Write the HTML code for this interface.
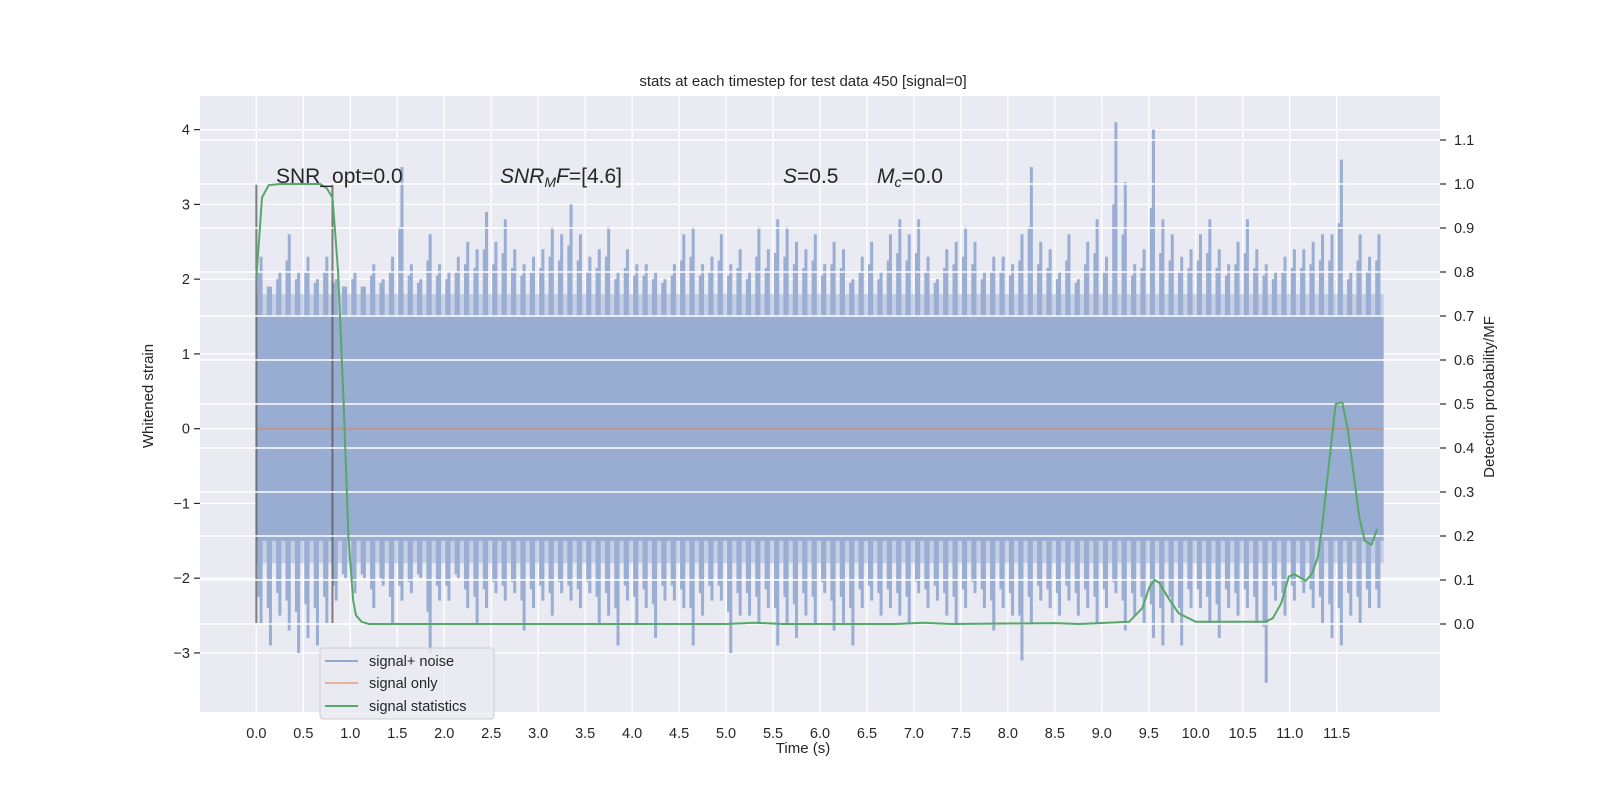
<!DOCTYPE html>
<html><head><meta charset="utf-8"><style>
html,body{margin:0;padding:0;background:#fff;}
svg{display:block;font-family:"Liberation Sans","DejaVu Sans",sans-serif;}
</style></head><body>
<svg id="chart" width="1600" height="800" viewBox="0 0 1600 800" xmlns="http://www.w3.org/2000/svg">
<rect x="0" y="0" width="1600" height="800" fill="#fff"/>
<rect x="200" y="96" width="1240" height="616" fill="#eaeaf2"/>
<g id="leftgrid"></g>
<g id="noise"></g>
<g id="ax1marks"></g>
<g id="rightgrid"></g>
<g id="ax2marks"></g>
<g id="ticks"></g>
<text x="803" y="86" font-size="15" fill="#262626" text-anchor="middle">stats at each timestep for test data 450 [signal=0]</text>
<text x="803" y="753" font-size="15" fill="#262626" text-anchor="middle">Time (s)</text>
<text transform="translate(153,396) rotate(-90)" font-size="15" fill="#262626" text-anchor="middle">Whitened strain</text>
<text transform="translate(1494,397) rotate(-90)" font-size="15" fill="#262626" text-anchor="middle">Detection probability/MF</text>
<g font-size="21" fill="#262626">
<text x="276" y="183">SNR_opt=0.0</text>
<text x="500" y="183"><tspan font-style="italic">SNR</tspan><tspan font-style="italic" font-size="14" dy="4">M</tspan><tspan font-style="italic" dy="-4">F</tspan>=[4.6]</text>
<text x="783" y="183"><tspan font-style="italic">S</tspan>=0.5</text>
<text x="877" y="183"><tspan font-style="italic">M</tspan><tspan font-style="italic" font-size="14" dy="4">c</tspan><tspan dy="-4">=0.0</tspan></text>
</g>
<g>
<rect x="320" y="648" width="174" height="71" rx="3" fill="#eaeaf2" fill-opacity="0.85" stroke="#cccccc" stroke-width="1"/>
<line x1="325" y1="661" x2="358" y2="661" stroke="#4c72b0" stroke-opacity="0.55" stroke-width="2"/>
<text x="369" y="666" font-size="14.5" fill="#262626">signal+ noise</text>
<line x1="325" y1="683" x2="358" y2="683" stroke="#dd8452" stroke-opacity="0.55" stroke-width="2"/>
<text x="369" y="688" font-size="14.5" fill="#262626">signal only</text>
<line x1="325" y1="706" x2="358" y2="706" stroke="#55a868" stroke-width="2"/>
<text x="369" y="711" font-size="14.5" fill="#262626">signal statistics</text>
</g>
</svg>
<script>
const upperMax=[2.3,1.9,2.1,2.6,2.1,2.3,2.0,2.3,2.0,1.9, 2.1,1.9,2.2,2.0,2.3,3.5,2.2,2.0,2.6,2.2, 2.1,2.3,2.5,2.4,2.9,2.5,2.8,2.4,2.2,2.3, 2.4,2.7,2.6,3.0,2.6,2.3,2.4,2.7,2.1,2.4, 2.2,2.2,2.1,2.0,2.2,2.6,2.7,2.2,2.3,2.6, 2.2,2.4,2.1,2.7,2.4,2.8,2.7,2.5,2.4,2.6, 2.2,2.5,2.4,2.0,2.3,2.5,2.1,2.6,2.8,2.6, 2.8,2.3,2.0,2.4,2.5,2.7,2.5,2.1,2.3,2.3, 2.2,2.6,3.5,2.5,2.4,2.1,2.6,2.0,2.5,2.8, 2.3,4.1,3.3,2.2,2.4,4.0,2.8,2.6,2.3,2.4, 2.6,2.8,2.4,2.2,2.5,2.8,2.4,2.2,2.1,2.3, 2.4,2.4,2.5,2.6,2.6,3.6,2.1,2.6,2.3,2.6];
const lowerMin=[-2.6,-2.9,-2.5,-2.7,-3.0,-2.8,-2.9,-2.6,-2.3,-2.0, -2.2,-2.0,-2.4,-2.1,-2.6,-2.3,-2.2,-2.0,-3.0,-2.3, -2.3,-2.0,-2.4,-2.6,-2.4,-2.2,-2.3,-2.2,-2.7,-2.4, -2.3,-2.5,-2.2,-2.3,-2.4,-2.2,-2.6,-2.5,-2.9,-2.3, -2.6,-2.4,-2.8,-2.3,-2.3,-2.4,-2.9,-2.5,-2.3,-2.3, -3.0,-2.5,-2.5,-2.6,-2.4,-2.9,-2.6,-2.8,-2.5,-2.6, -2.2,-2.7,-2.6,-2.9,-2.4,-2.3,-2.5,-2.4,-2.5,-2.6, -2.2,-2.4,-2.3,-2.5,-2.6,-2.4,-2.2,-2.4,-2.7,-2.4, -2.5,-3.1,-2.6,-2.3,-2.4,-2.5,-2.3,-2.5,-2.4,-2.6, -2.4,-2.2,-2.7,-2.5,-2.6,-2.8,-2.9,-2.6,-2.9,-2.4, -2.4,-2.6,-2.8,-2.4,-2.5,-2.4,-2.6,-3.4,-2.3,-2.5, -2.3,-2.2,-2.4,-2.6,-2.8,-2.9,-2.5,-2.6,-2.4,-2.4];
const binWidth=0.1;
const bandHalf=1.5;
const statTimes=[0,0.06,0.13,0.25,0.5,0.68,0.75,0.81,0.87,0.93,0.98,1.03,1.06,1.12,1.2,3.0,5.0,5.3,5.6,6.8,7.1,7.4,8.5,8.76,9.29,9.43,9.51,9.56,9.61,9.72,9.82,10.0,10.74,10.82,10.91,10.99,11.05,11.17,11.24,11.30,11.35,11.40,11.49,11.56,11.62,11.74,11.80,11.87,11.93];
const statValues=[0.787,0.969,0.997,1.0,1.0,1.0,0.99,0.969,0.8,0.5,0.2,0.055,0.02,0.005,0.0,0.0,0.0,0.003,0.0,0.0,0.003,0.0,0.002,0.0,0.005,0.036,0.085,0.10,0.094,0.055,0.024,0.005,0.005,0.013,0.047,0.108,0.113,0.098,0.115,0.153,0.23,0.33,0.50,0.504,0.44,0.244,0.189,0.18,0.216];
const xTicks=[0,0.5,1,1.5,2,2.5,3,3.5,4,4.5,5,5.5,6,6.5,7,7.5,8,8.5,9,9.5,10,10.5,11,11.5];
const yTicks=[-3,-2,-1,0,1,2,3,4];
const y2Ticks=[0,0.1,0.2,0.3,0.4,0.5,0.6,0.7,0.8,0.9,1.0,1.1];
const markerTimes=[0,0.81];
const markerRange=[-2.6,3.28];
const signalOnly=[0,0];
const signalSpan=[0,12];

const NS='http://www.w3.org/2000/svg';
const X0=200,X1=1440,Y0=96,Y1=712;
const xMin=-0.6,xMax=12.6,yMin=-3.79,yMax=4.45,y2Min=-0.2,y2Max=1.2;
function sx(t){return X0+(t-xMin)/(xMax-xMin)*(X1-X0);}
function sy(v){return Y1-(v-yMin)/(yMax-yMin)*(Y1-Y0);}
function sy2(v){return Y1-(v-y2Min)/(y2Max-y2Min)*(Y1-Y0);}
function mk(tag,attrs,parent){const e=document.createElementNS(NS,tag);for(const k in attrs)e.setAttribute(k,attrs[k]);parent.appendChild(e);return e;}
function fmt(v){const s=v.toFixed(1);return s.replace('-','\u2212');}

const lg=document.getElementById('leftgrid');
yTicks.forEach(v=>{const l=mk('line',{x1:X0,x2:X1,y1:sy(v),y2:sy(v),stroke:'#fff','stroke-width':1.3},lg);

});
xTicks.forEach(t=>{const l=mk('line',{x1:sx(t),x2:sx(t),y1:Y0,y2:Y1,stroke:'#fff','stroke-width':1.3},lg);

});

const ng=document.getElementById('noise');


const nEnd=upperMax.length*binWidth;
const band=mk('rect',{x:sx(0),y:sy(bandHalf),width:sx(nEnd)-sx(0),height:sy(-bandHalf)-sy(bandHalf),fill:'#9aadd2'},ng);


const soft=mk('rect',{x:sx(0),y:sy(bandHalf+0.3),width:sx(nEnd)-sx(0),height:sy(-bandHalf-0.3)-sy(bandHalf+0.3),fill:'#9aadd2','fill-opacity':0.45},ng);


upperMax.forEach((v,i)=>{const t=i*binWidth+binWidth/2;
const r=mk('rect',{x:sx(t)-1.5,y:sy(v),width:3,height:sy(bandHalf)-sy(v)+1,fill:'#9aadd2'},ng);


const r2=mk('rect',{x:sx(t-binWidth/2)+1,y:sy((v+bandHalf)/2+0.2),width:2.5,height:sy(bandHalf)-sy((v+bandHalf)/2+0.2)+1,fill:'#9aadd2'},ng);

});
lowerMin.forEach((v,i)=>{const t=i*binWidth+binWidth/2;
const r=mk('rect',{x:sx(t)-1.5,y:sy(-bandHalf)-1,width:3,height:sy(v)-sy(-bandHalf)+1,fill:'#9aadd2'},ng);


const m=(v-bandHalf)/2-0.2;
const r2=mk('rect',{x:sx(t-binWidth/2)+1,y:sy(-bandHalf)-1,width:2.5,height:sy(m)-sy(-bandHalf)+1,fill:'#9aadd2'},ng);

});

const a1=document.getElementById('ax1marks');
const so=mk('line',{x1:sx(signalSpan[0]),x2:sx(signalSpan[1]),y1:sy(signalOnly[0]),y2:sy(signalOnly[1]),stroke:'#dd8452','stroke-opacity':0.55,'stroke-width':2},a1);


markerTimes.forEach(t=>{const l=mk('line',{x1:sx(t),x2:sx(t),y1:sy(markerRange[0]),y2:sy(markerRange[1]),stroke:'#555','stroke-opacity':0.75,'stroke-width':2},a1);

});

const rg=document.getElementById('rightgrid');
y2Ticks.forEach(v=>{const l=mk('line',{x1:X0,x2:X1,y1:sy2(v),y2:sy2(v),stroke:'#fff','stroke-width':1.6},rg);

});

const a2=document.getElementById('ax2marks');
const pts=statTimes.map((t,i)=>sx(t).toFixed(1)+','+sy2(statValues[i]).toFixed(1)).join(' ');
const pl=mk('polyline',{points:pts,fill:'none',stroke:'#55a868','stroke-width':2,'stroke-linejoin':'round'},a2);



const tg=document.getElementById('ticks');
xTicks.forEach(t=>{const tx=mk('text',{x:sx(t),y:738,'font-size':14.5,fill:'#262626','text-anchor':'middle'},tg);
tx.textContent=fmt(t);

});
yTicks.forEach(v=>{mk('line',{x1:X0-6,x2:X0,y1:sy(v),y2:sy(v),stroke:'#262626','stroke-width':1.2},tg);
const tx=mk('text',{x:X0-10,y:sy(v)+5,'font-size':14.5,fill:'#262626','text-anchor':'end'},tg);
tx.textContent=String(v).replace('-','\u2212');

});
y2Ticks.forEach(v=>{mk('line',{x1:X1,x2:X1+6,y1:sy2(v),y2:sy2(v),stroke:'#262626','stroke-width':1.2},tg);
const tx=mk('text',{x:X1+14,y:sy2(v)+5,'font-size':14.5,fill:'#262626'},tg);
tx.textContent=v.toFixed(1);

});
</script>
</body></html>
